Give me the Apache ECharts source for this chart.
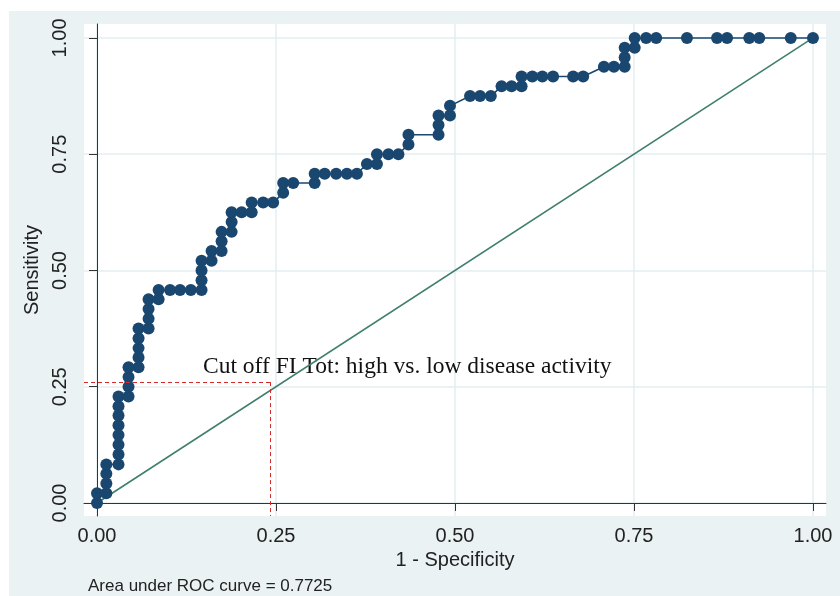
<!DOCTYPE html>
<html lang="en">
<head>
    <meta charset="UTF-8">
    <title>ROC curve</title>
    <script type="text/javascript" src="https://cdn.jsdelivr.net/npm/echarts@6/dist/echarts.min.js"></script>
    <style>
        html, body {
            width: 100%;
            height: 100%;
            margin: 0;
            padding: 0;
            background: #fff;
        }
        #main {
            width: 840px;
            height: 596px;
        }
    </style>
</head>
<body>
    <div id="main"></div>
    <script>
        // ROC points (1 - specificity, sensitivity)
        var rocFpr = [
            0.000, 0.000, 0.013, 0.013, 0.013, 0.013,
            0.030, 0.030, 0.030, 0.030, 0.030, 0.030, 0.030, 0.030,
            0.044, 0.044, 0.044, 0.044,
            0.058, 0.058, 0.058, 0.058, 0.058,
            0.072, 0.072, 0.072, 0.072,
            0.086, 0.086, 0.102, 0.116, 0.131,
            0.146, 0.146, 0.146, 0.146,
            0.160, 0.160, 0.174, 0.174, 0.174,
            0.188, 0.188, 0.188, 0.202, 0.216, 0.216,
            0.232, 0.246, 0.260, 0.260, 0.274,
            0.304, 0.304, 0.318, 0.334, 0.349, 0.363,
            0.377, 0.391, 0.391, 0.407, 0.421,
            0.435, 0.435, 0.477, 0.477, 0.477, 0.493, 0.493,
            0.521, 0.535, 0.550, 0.565, 0.579, 0.593, 0.593,
            0.608, 0.622, 0.637, 0.665, 0.679,
            0.708, 0.722, 0.737, 0.737, 0.737, 0.751, 0.751,
            0.767, 0.781, 0.824, 0.866, 0.880, 0.911, 0.925, 0.969, 1.000
        ];
        var rocTpr = [
            0.000, 0.021, 0.021, 0.042, 0.063, 0.083,
            0.083, 0.104, 0.125, 0.146, 0.167, 0.188, 0.208, 0.229,
            0.229, 0.250, 0.271, 0.292,
            0.292, 0.313, 0.333, 0.354, 0.375,
            0.375, 0.396, 0.417, 0.438,
            0.438, 0.458, 0.458, 0.458, 0.458,
            0.458, 0.479, 0.500, 0.521,
            0.521, 0.542, 0.542, 0.563, 0.583,
            0.583, 0.604, 0.625, 0.625, 0.625, 0.646,
            0.646, 0.646, 0.667, 0.688, 0.688,
            0.688, 0.708, 0.708, 0.708, 0.708, 0.708,
            0.729, 0.729, 0.750, 0.750, 0.750,
            0.771, 0.792, 0.792, 0.813, 0.833, 0.833, 0.854,
            0.875, 0.875, 0.875, 0.896, 0.896, 0.896, 0.917,
            0.917, 0.917, 0.917, 0.917, 0.917,
            0.938, 0.938, 0.938, 0.958, 0.979, 0.979, 1.000,
            1.000, 1.000, 1.000, 1.000, 1.000, 1.000, 1.000, 1.000, 1.000
        ];
        var refX = [0, 1];
        var refY = [0, 1];
        var tickValues = [0, 0.25, 0.5, 0.75, 1];
        // cut off marker (red dashed)
        var cutX = 0.242;
        var cutY = 0.26;
        var xMin = -0.0182, xMax = 1.0182;
        var yMin = -0.028, yMax = 1.030;

        var rocData = rocFpr.map(function (x, i) { return [x, rocTpr[i]]; });
        var refData = refX.map(function (x, i) { return [x, refY[i]]; });

        var myChart = echarts.init(document.getElementById('main'));
        var lblFont = 'Liberation Sans, Arial, sans-serif';

        var option = {
            backgroundColor: '#fff',
            animation: false,
            graphic: [
                {
                    type: 'rect', z: -10, silent: true,
                    shape: { x: 9, y: 11, width: 831, height: 585 },
                    style: { fill: '#eaf2f3' }
                },
                {
                    type: 'text', left: 203, top: 355, z: 1,
                    style: {
                        text: 'Cut off FI Tot: high vs. low disease activity',
                        font: '23.5px "Liberation Serif", "Times New Roman", serif',
                        fill: '#111'
                    }
                },
                {
                    type: 'text', left: 88, top: 578,
                    style: {
                        text: 'Area under ROC curve = 0.7725',
                        font: '17px ' + lblFont,
                        fill: '#222'
                    }
                }
            ],
            grid: {
                left: 84, right: 14, top: 24, bottom: 80,
                show: true, backgroundColor: '#fff', borderWidth: 0
            },
            xAxis: {
                type: 'value', min: xMin, max: xMax,
                name: '1 - Specificity', nameLocation: 'middle', nameGap: 34,
                nameTextStyle: { fontSize: 20, color: '#222', fontFamily: lblFont },
                axisLine: { lineStyle: { color: '#333', width: 1 } },
                axisTick: { length: 8, customValues: tickValues, lineStyle: { color: '#333' } },
                axisLabel: {
                    customValues: tickValues, margin: 10, fontSize: 20, color: '#222', fontFamily: lblFont,
                    formatter: function (v) { return v.toFixed(2); }
                },
                splitLine: { show: true, lineStyle: { color: '#e3eef1', width: 1.5 } }
            },
            yAxis: {
                type: 'value', min: yMin, max: yMax,
                name: 'Sensitivity', nameLocation: 'middle', nameGap: 40,
                nameTextStyle: { fontSize: 20, color: '#222', fontFamily: lblFont },
                axisLine: { show: true, lineStyle: { color: '#333', width: 1 } },
                axisTick: { show: true, length: 8, customValues: tickValues, lineStyle: { color: '#333' } },
                axisLabel: {
                    customValues: tickValues, rotate: 90, margin: 14, fontSize: 20, color: '#222', fontFamily: lblFont,
                    formatter: function (v) { return v.toFixed(2); }
                },
                splitLine: { show: true, lineStyle: { color: '#e3eef1', width: 1.5 } }
            },
            series: [
                {
                    name: 'reference',
                    type: 'line',
                    data: refData,
                    symbol: 'none',
                    lineStyle: { color: '#3f7f6e', width: 1.6 },
                    z: 2,
                    markLine: {
                        silent: true,
                        symbol: 'none',
                        label: { show: false },
                        lineStyle: { color: '#d42a2a', width: 1, type: [4, 3] },
                        data: [
                            [{ coord: [xMin, cutY] }, { coord: [cutX, cutY] }],
                            [{ coord: [cutX, cutY] }, { coord: [cutX, yMin] }]
                        ]
                    }
                },
                {
                    name: 'ROC',
                    type: 'line',
                    data: rocData,
                    symbol: 'circle',
                    symbolSize: 12,
                    itemStyle: { color: '#1a476f' },
                    lineStyle: { color: '#1a476f', width: 1.6 },
                    z: 3
                }
            ]
        };
        myChart.setOption(option);

        window.addEventListener('resize', function () {
            myChart.resize();
        });
    </script>
</body>
</html>
